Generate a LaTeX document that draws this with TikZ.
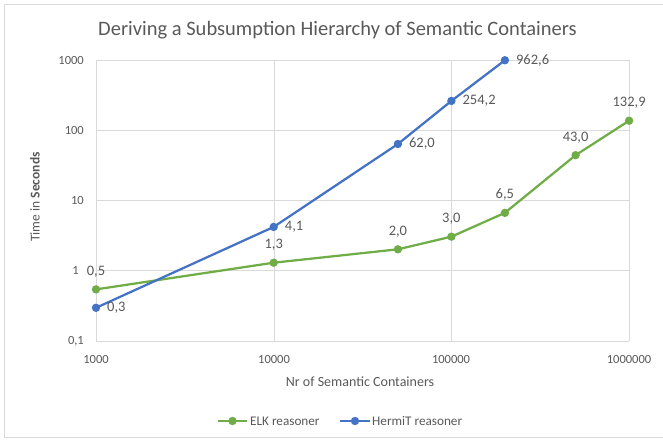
\documentclass[tikz,border=0pt]{standalone}
\usepackage{fontspec}
\setmainfont{Carlito}
\usetikzlibrary{calc}

\definecolor{elkgreen}{HTML}{70AD47}
\definecolor{hermitblue}{HTML}{4472C4}
\definecolor{gridgray}{HTML}{D9D9D9}
\definecolor{textgray}{HTML}{595959}

\tikzset{
  curve/.style={line width=2.25pt, line join=round},
  gridline/.style={gridgray, line width=0.9pt},
  tick/.style={text=textgray, inner sep=0pt, font=\fontsize{12.5}{15}\selectfont},
  value/.style={text=textgray, inner sep=0pt, font=\fontsize{14.5}{17}\selectfont},
  legendtext/.style={text=textgray, inner sep=0pt, font=\fontsize{13.2}{16}\selectfont},
}

\begin{document}
\begin{tikzpicture}[x=1pt,y=-1pt]
        \useasboundingbox (0,0) rectangle (663,443);

        % frame of the chart
        \draw[gridgray] (665,4.5) -- (4.5,4.5) -- (4.5,437) -- (665,437);

        \node[text=textgray, font=\fontsize{20.5}{24}\selectfont] (title) at (337.5,30)
          {Deriving a Subsumption Hierarchy of Semantic Containers};

        % grid
        \foreach \y in {60,130,200,270}
          \draw[gridline] (96,\y) -- (629,\y);
        \foreach \x in {274,451,629}
          \draw[gridline] (\x,60) -- (\x,341);
        \draw[gridline] (96,60) -- (96,341) -- (629,341);

        % tick labels
        \node[tick, anchor=east] (y1000) at (84,60) {1000};
        \node[tick, anchor=east] (y100) at (84,130) {100};
        \node[tick, anchor=east] (y10) at (84,200) {10};
        \node[tick, anchor=east] (y1) at (79,270) {1};
        \node[tick, anchor=east] (y01) at (84,341) {0,1};

        \node[tick] (x1000) at (96,359) {1000};
        \node[tick] (x10000) at (274,359) {10000};
        \node[tick] (x100000) at (451,359) {100000};
        \node[tick] (x1000000) at (629,359) {1000000};

        \node[text=textgray, font=\fontsize{14}{17}\selectfont] (xlab) at (360,382)
          {Nr of Semantic Containers};
        \node[text=textgray, font=\fontsize{13.5}{16}\selectfont, rotate=90] (ylab) at (35,197)
          {Time in \textbf{Seconds}};

        % x is the decade (1000 = 3), y is log10 of the time
        \begin{scope}[shift={(-437.1,270)}, x=177.7pt, y=70.3pt]
        \coordinate (E1) at (3,{log10(0.53)});
        \coordinate (E2) at (4,{log10(1.27)});
        \coordinate (E3) at ({4+log10(5)},{log10(1.97)});
        \coordinate (E4) at (5,{log10(2.98)});
        \coordinate (E5) at ({5+log10(2)},{log10(6.5)});
        \coordinate (E6) at ({5+log10(5)},{log10(43.0)});
        \coordinate (E7) at (6,{log10(132.9)});

        \coordinate (H1) at (3,{log10(0.29)});
        \coordinate (H2) at (4,{log10(4.1)});
        \coordinate (H3) at ({4+log10(5)},{log10(62.0)});
        \coordinate (H4) at (5,{log10(254.2)});
        \coordinate (H5) at ({5+log10(2)},{log10(962.6)});
        \end{scope}

        \draw[curve, elkgreen] (E1) -- (E2) -- (E3) -- (E4) -- (E5) -- (E6) -- (E7);
        \draw[curve, hermitblue] (H1) -- (H2) -- (H3) -- (H4) -- (H5);

        \foreach \p in {E1,E2,E3,E4,E5,E6,E7}
          \fill[elkgreen] (\p) circle (4.2);
        \foreach \p in {H1,H2,H3,H4,H5}
          \fill[hermitblue] (\p) circle (4.2);

        % values
        \node[value, above=12pt] (vE1) at (E1) {0,5};
        \node[value, above=12pt] (vE2) at (E2) {1,3};
        \node[value, above=12pt] (vE3) at (E3) {2,0};
        \node[value, above=12pt] (vE4) at (E4) {3,0};
        \node[value, above=12pt] (vE5) at (E5) {6,5};
        \node[value, above=12pt] (vE6) at (E6) {43,0};
        \node[value, above=12pt] (vE7) at (E7) {132,9};

        \node[value, right=11pt] (vH1) at (H1) {0,3};
        \node[value, right=11pt] (vH2) at (H2) {4,1};
        \node[value, right=11pt] (vH3) at (H3) {62,0};
        \node[value, right=11pt] (vH4) at (H4) {254,2};
        \node[value, right=11pt] (vH5) at (H5) {962,6};

        % legend
        \coordinate (LEa) at (218,421);
        \coordinate (LEb) at (247,421);
        \coordinate (LHa) at (340,421);
        \coordinate (LHb) at (370,421);
        \draw[curve, elkgreen] (LEa) -- (LEb);
        \fill[elkgreen] ($(LEa)!0.5!(LEb)$) circle (4.2);
        \draw[curve, hermitblue] (LHa) -- (LHb);
        \fill[hermitblue] ($(LHa)!0.5!(LHb)$) circle (4.2);
        \node[legendtext, anchor=west] (lelk) at (250,421) {ELK reasoner};
        \node[legendtext, anchor=west] (lhermit) at (372,421) {HermiT reasoner};
\end{tikzpicture}
\end{document}
